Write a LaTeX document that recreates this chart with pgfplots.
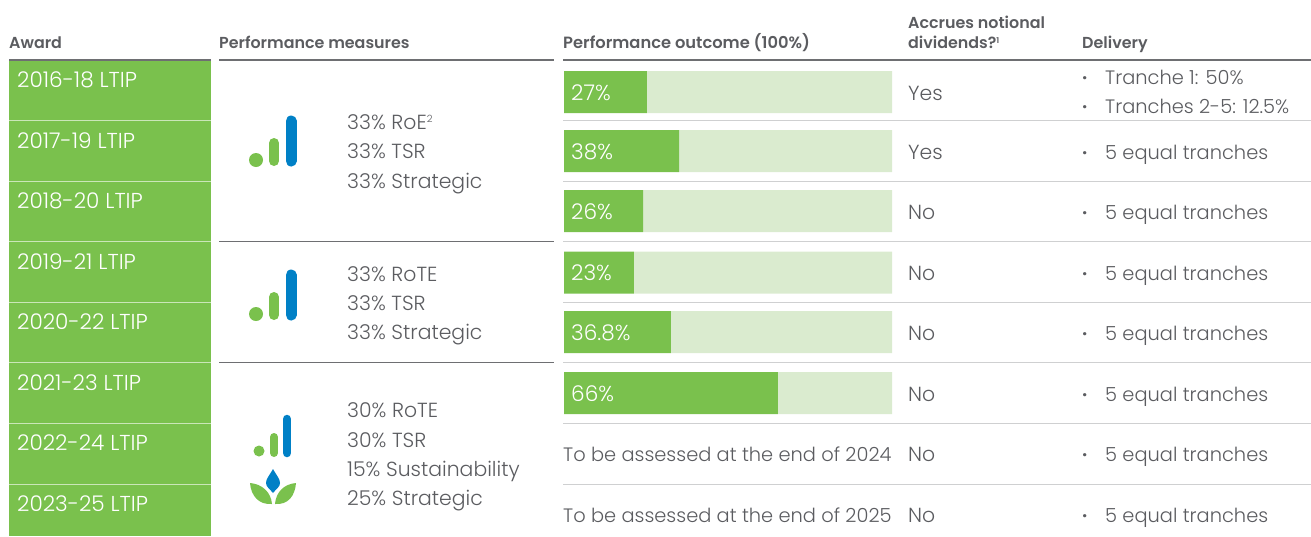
\documentclass[border=0pt]{standalone}
\usepackage{pgfplots}
\pgfplotsset{compat=1.18}
\usepackage{fontspec}
\setmainfont{Poppins}[UprightFont=* Light,BoldFont=* SemiBold]
\definecolor{gtxt}{HTML}{5B5C60}
\definecolor{gbar}{HTML}{7AC14D}
\definecolor{lbar}{HTML}{DAEBCF}
\definecolor{bbar}{HTML}{0080C6}
\definecolor{rule}{HTML}{6E6F72}
\definecolor{lrule}{HTML}{CFD0D1}
\newcommand{\body}{\fontsize{20.4}{24}\selectfont}
\newcommand{\deliv}{\fontsize{19.4}{24}\selectfont}
\newcommand{\aw}{\fontsize{21.6}{24}\selectfont}
\newcommand{\head}{\fontsize{15.9}{19}\selectfont\bfseries}
\begin{document}
\begin{tikzpicture}[x=1pt,y=1pt,
  T/.style={anchor=base west,inner sep=0pt,text=gtxt,font=\body},
  D/.style={anchor=base west,inner sep=0pt,text=gtxt,font=\deliv},
  B/.style={anchor=base west,inner sep=0pt,text=gtxt,font=\deliv\bfseries},
  H/.style={anchor=base west,inner sep=0pt,text=gtxt,font=\head},
  A/.style={anchor=base west,inner sep=0pt,text=white,font=\aw}]
\useasboundingbox (0pt,0pt) rectangle (1311pt,536pt);
\begin{axis}[at={(0pt,0pt)},anchor=south west,scale only axis,width=1311pt,height=536pt,
  xmin=0,xmax=1311,ymin=0,ymax=536,y dir=reverse,hide axis,clip=false]
% award cells
\fill[gbar] (axis cs:9,61) rectangle (axis cs:211,536);
\foreach \y in {120.5,181,241.5,302,362.5,423,484}{
  \edef\tmp{\noexpand\draw[white!60!gbar,line width=1pt] (axis cs:9,\y) -- (axis cs:211,\y);
  \noexpand\draw[lrule,line width=1pt] (axis cs:563,\y) -- (axis cs:1311,\y);}\tmp}
\draw[rule,line width=1.6pt] (axis cs:9,60) -- (axis cs:211,60);
\draw[rule,line width=1.6pt] (axis cs:219,60) -- (axis cs:554,60);
\draw[rule,line width=1.6pt] (axis cs:563,60) -- (axis cs:1311,60);
\draw[rule,line width=1.2pt] (axis cs:219,241.5) -- (axis cs:554,241.5);
\draw[rule,line width=1.2pt] (axis cs:219,362.5) -- (axis cs:554,362.5);
% headers
\node[H] at (axis cs:9,48) {Award};
\node[H] at (axis cs:219,48) {Performance measures};
\node[H,font=\fontsize{16.3}{19}\selectfont\bfseries] at (axis cs:563,48) {Performance outcome (100\%)};
\node[H] at (axis cs:908,28) {Accrues notional};
\node[H] at (axis cs:908,48) {dividends?\raisebox{5pt}{\fontsize{8}{8}\selectfont 1}};
\node[H] at (axis cs:1082,48) {Delivery};
% awards
\node[A] at (axis cs:17,87) {2016-18 LTIP};
\node[A] at (axis cs:17,148) {2017-19 LTIP};
\node[A] at (axis cs:17,208) {2018-20 LTIP};
\node[A] at (axis cs:17,269) {2019-21 LTIP};
\node[A] at (axis cs:17,329) {2020-22 LTIP};
\node[A] at (axis cs:17,390) {2021-23 LTIP};
\node[A] at (axis cs:17,450) {2022-24 LTIP};
\node[A] at (axis cs:17,511) {2023-25 LTIP};
% measures
\node[T] at (axis cs:347,129) {33\% RoE\raisebox{7pt}{\fontsize{10}{10}\selectfont 2}};
\node[T] at (axis cs:347,158) {33\% TSR};
\node[T] at (axis cs:347,188) {33\% Strategic};
\node[T] at (axis cs:347,281) {33\% RoTE};
\node[T] at (axis cs:347,310) {33\% TSR};
\node[T] at (axis cs:347,339) {33\% Strategic};
\node[T] at (axis cs:347,417) {30\% RoTE};
\node[T] at (axis cs:347,447) {30\% TSR};
\node[T] at (axis cs:347,476) {15\% Sustainability};
\node[T] at (axis cs:347,505) {25\% Strategic};
% assessed
\node[D] at (axis cs:563,461) {To be assessed at the end of 2024};
\node[D] at (axis cs:563,522) {To be assessed at the end of 2025};
% dividends
\foreach \y/\t in {100/Yes,159/Yes,219/No,280/No,340/No,401/No,461/No,522/No}{
  \edef\tmp{\noexpand\node[T] at (axis cs:908,\y) {\t};}\tmp}
% delivery
\node[B] at (axis cs:1082,84) {·};
\node[D] at (axis cs:1105,84) {Tranche 1: 50\%};
\node[B] at (axis cs:1082,113) {·};
\node[D] at (axis cs:1105,113) {Tranches 2-5: 12.5\%};
\foreach \y in {159,219,280,340,401,461,522}{
  \edef\tmp{\noexpand\node[B] at (axis cs:1082,\y) {·};
  \noexpand\node[D] at (axis cs:1105,\y) {5 equal tranches};}\tmp}
% icons
\fill[gbar] (axis cs:256,160) circle[radius=7pt];
\draw[gbar,line width=10pt,line cap=round] (axis cs:274,143) -- (axis cs:274,161);
\draw[bbar,line width=11pt,line cap=round] (axis cs:291,121) -- (axis cs:291,161);
\fill[gbar] (axis cs:256,314) circle[radius=7pt];
\draw[gbar,line width=10pt,line cap=round] (axis cs:274,297) -- (axis cs:274,315);
\draw[bbar,line width=11pt,line cap=round] (axis cs:291,275) -- (axis cs:291,315);
\fill[gbar] (axis cs:259,451) circle[radius=5.5pt];
\draw[gbar,line width=8pt,line cap=round] (axis cs:274,437) -- (axis cs:274,453);
\draw[bbar,line width=8.5pt,line cap=round] (axis cs:287,419) -- (axis cs:287,453);
\fill[bbar] (axis cs:273,469) .. controls (axis cs:277,476) and (axis cs:280,479) .. (axis cs:280,483)
  .. controls (axis cs:280,487) and (axis cs:276,489) .. (axis cs:273,493)
  .. controls (axis cs:270,489) and (axis cs:266,487) .. (axis cs:266,483)
  .. controls (axis cs:266,479) and (axis cs:269,476) .. (axis cs:273,469) -- cycle;
\fill[gbar] (axis cs:250,483) .. controls (axis cs:262,484) and (axis cs:271,492) .. (axis cs:272,504)
  .. controls (axis cs:259,505) and (axis cs:251,496) .. (axis cs:250,483) -- cycle;
\fill[gbar] (axis cs:296,483) .. controls (axis cs:284,484) and (axis cs:276,492) .. (axis cs:275,504)
  .. controls (axis cs:288,505) and (axis cs:295,496) .. (axis cs:296,483) -- cycle;
\end{axis}
% bars: lengths as drawn in the reference, on the 0-100 track
\begin{axis}[at={(564pt,0pt)},anchor=south west,scale only axis,width=328pt,height=536pt,
  xmin=0,xmax=100,ymin=0,ymax=536,y dir=reverse,hide axis,clip=false,
  xbar stacked,bar width=42pt]
\addplot[fill=gbar,draw=none] coordinates {(25.3,92) (35.1,151) (24.1,211) (21.3,272.5) (32.6,332) (65.2,393)};
\addplot[fill=lbar,draw=none] coordinates {(74.7,92) (64.9,151) (75.9,211) (78.7,272.5) (67.4,332) (34.8,393)};
\end{axis}
% labels on the bars
\begin{axis}[at={(0pt,0pt)},anchor=south west,scale only axis,width=1311pt,height=536pt,
  xmin=0,xmax=1311,ymin=0,ymax=536,y dir=reverse,hide axis,clip=false]
\node[A] at (axis cs:571,100) {27\%};
\node[A] at (axis cs:571,159) {38\%};
\node[A] at (axis cs:571,219) {26\%};
\node[A] at (axis cs:571,280) {23\%};
\node[A] at (axis cs:571,340) {36.8\%};
\node[A] at (axis cs:571,401) {66\%};
\end{axis}
\end{tikzpicture}
\end{document}
